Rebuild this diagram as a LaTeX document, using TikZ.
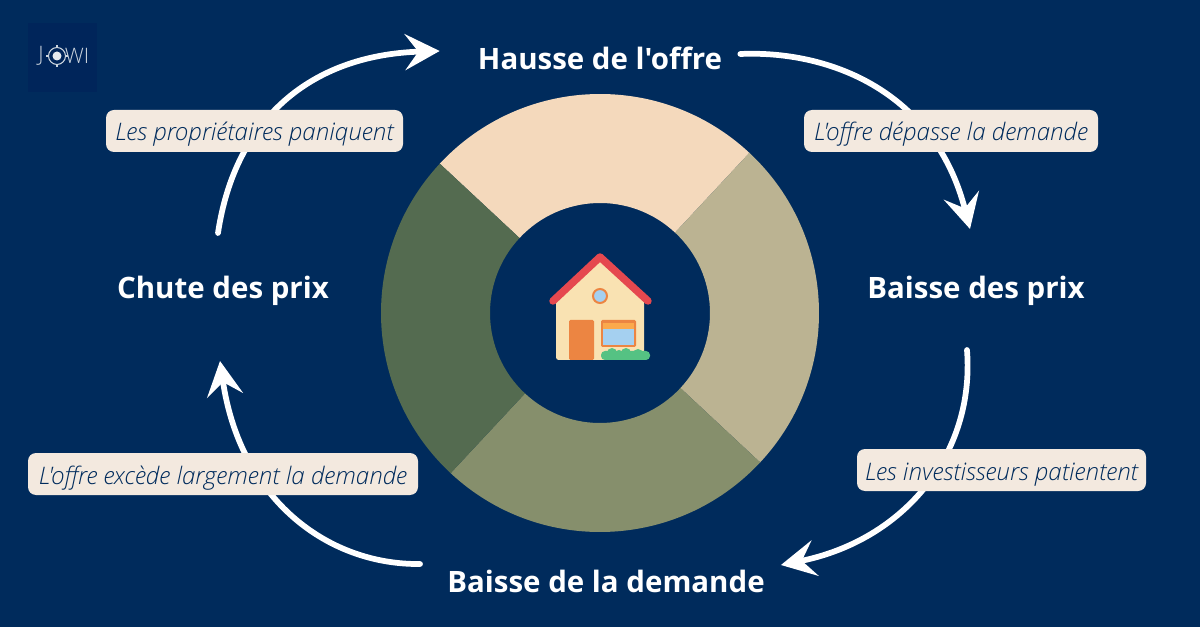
\documentclass[tikz,border=0pt]{standalone}
\usepackage{fontspec}
\setmainfont{Open Sans}[Ligatures=TeXOff, ItalicFont={Open Sans Light Italic}]
\newfontfamily\logofont{Open Sans Light}
\usetikzlibrary{arrows.meta,calc}
\definecolor{navy}{HTML}{002B5C}
\definecolor{logonavy}{HTML}{00255A}
\definecolor{peach}{HTML}{F4D9BC}
\definecolor{khaki}{HTML}{BBB392}
\definecolor{sage}{HTML}{868F6C}
\definecolor{moss}{HTML}{546B50}
\definecolor{cream}{HTML}{F3E9DF}
\definecolor{roofred}{HTML}{E5484F}
\definecolor{wall}{HTML}{F9E2B2}
\definecolor{brick}{HTML}{EC8542}
\definecolor{pane}{HTML}{A5D0F0}
\definecolor{blind}{HTML}{FBA94C}
\definecolor{bush}{HTML}{55C283}
\begin{document}
\begin{tikzpicture}[
        x=0.75pt, y=-0.75pt,
        stage/.style={font=\bfseries\fontsize{22.1}{26}\selectfont, text=white, inner sep=0pt},
        cause/.style={fill=cream, text=navy, rounded corners=6pt, inner sep=0pt, minimum height=31.5pt,
            text height=15pt, text depth=0pt, font=\itshape\fontsize{18.1}{21}\selectfont},
        flow/.style={white, line width=4.3pt, line cap=round,
            -{Stealth[length=26pt,width=27pt,inset=10pt]}},
        logotext/.style={font=\logofont\fontsize{16}{18}\selectfont, text=white!80!navy, inner sep=0pt},
    ]
    \useasboundingbox (0,0) rectangle (1200,627);
    \fill[navy] (0,0) rectangle (1200,627);
    % logo
    \fill[logonavy] (28,23) rectangle (97,92);
    \node[logotext] (logoj) at (41,56) {J};
    \node[logotext] (logowi) at (77,56) {WI};
    \draw[white!80!navy, line width=0.8pt] (57,56) circle (8.5);
    \fill[white!90!navy] (57,56) circle (4.5);
    \draw[white!80!navy, line width=0.8pt] (57,45) -- (57,48) (57,64) -- (57,67) (46,56) -- (49,56) (65,56) -- (68,56);
    % donut
    \foreach \from/\to/\col in {-137/-47/peach, -47/43/khaki, 43/133/sage, 133/223/moss}
        \fill[\col, shift={(600,313)}] (\from:219) arc[start angle=\from, end angle=\to, radius=219]
            -- (\to:110) arc[start angle=\to, end angle=\from, radius=110] -- cycle;
    % house
    \fill[wall, rounded corners=2pt] (556,300) -- (600,260) -- (644,300) -- (644,360) -- (556,360) -- cycle;
    \draw[roofred, line width=5.6pt, line cap=round, line join=round] (553,301) -- (600,257) -- (648,301);
    \draw[brick, fill=pane, line width=1.5pt] (600,296) circle (7);
    \fill[brick, rounded corners=1pt] (569,320) rectangle (594,360);
    \fill[brick, rounded corners=1pt] (601,320) rectangle (636,347);
    \fill[pane] (603,323) rectangle (634,345);
    \fill[blind] (603,323) rectangle (634,329);
    \fill[bush, rounded corners=3pt] (601,351) rectangle (650,360);
    \foreach \bx/\by/\br in {612/353/5, 619/354/4, 626/353/5, 633/355/4, 638/354/5}
        \fill[bush] (\bx,\by) circle (\br);
    % stages
    \node[stage] (hausse) at (600,58) {Hausse de l'offre};
    \node[stage] (baisseprix) at (976,291) {Baisse des prix};
    \node[stage] (demande) at (606,581) {Baisse de la demande};
    \node[stage] (chute) at (223,291) {Chute des prix};
    % arrows
    \draw[flow] ($(chute.north)+(-5,-43)$) .. controls +(17,-114) and +(-129,4) .. ($(hausse.west)+(-38,-7)$);
    \draw[flow] ($(hausse.east)+(18,-4)$) .. controls +(90,-4) and +(-35,-137) .. ($(baisseprix.north)+(-6,-47)$);
    \draw[flow] ($(baisseprix.south)+(-9,44)$) .. controls +(8,103) and +(124,-25) .. ($(demande.east)+(16,-16)$);
    \draw[flow] ($(demande.west)+(-27,-17)$) .. controls +(-93,1) and +(20,138) .. ($(chute.south)+(-3,55)$);
    % labels on the arrows
    \node[cause, minimum width=222.75pt] (panique) at (254.5,131) {Les propriétaires paniquent};
    \node[cause, minimum width=220.5pt] (depasse) at (951,131) {L'offre dépasse la demande};
    \node[cause, minimum width=216.75pt] (patience) at (1001.5,470) {Les investisseurs patientent};
    \node[cause, minimum width=292.5pt] (excede) at (223,474) {L'offre excède largement la demande};
\end{tikzpicture}
\end{document}
